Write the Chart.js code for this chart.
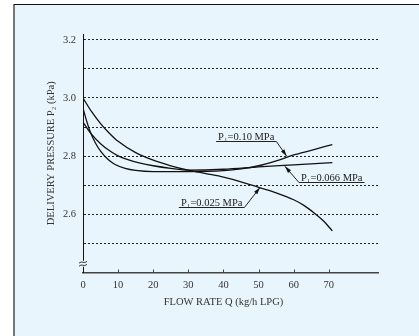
<!DOCTYPE html>
<html>
<head>
<meta charset="utf-8">
<script src="https://cdn.jsdelivr.net/npm/chart.js@4/dist/chart.umd.min.js"></script>
<style>
  html, body { margin: 0; padding: 0; background: #fff; }
  #wrap { width: 419px; height: 336px; }
</style>
</head>
<body>
<div id="wrap"><canvas id="c" width="419" height="336"></canvas></div>
<script>
// flow rate Q (kg/h LPG) and delivery pressure P2 (kPa), one pair per inlet pressure
const q010 = [0, 1, 2, 3.5, 5, 7, 9, 12, 15, 20, 30, 40, 45, 50, 55, 60, 65, 71];
const p010 = [2.965, 2.922, 2.886, 2.846, 2.817, 2.79, 2.772, 2.758, 2.751, 2.747, 2.747, 2.75, 2.756, 2.767, 2.784, 2.804, 2.82, 2.84];

const q066 = [0, 2, 5, 8, 10, 13, 16, 20, 25, 30, 40, 50, 60, 71];
const p066 = [2.917, 2.882, 2.843, 2.815, 2.801, 2.787, 2.777, 2.767, 2.758, 2.752, 2.755, 2.763, 2.77, 2.778];

const q025 = [0, 2.5, 5, 7.5, 10, 15, 20, 25, 30, 35, 40, 45, 50, 55, 60, 63, 66, 68.5, 71];
const p025 = [3.0, 2.952, 2.912, 2.879, 2.851, 2.812, 2.786, 2.767, 2.752, 2.74, 2.728, 2.712, 2.693, 2.674, 2.65, 2.63, 2.603, 2.577, 2.543];

const xTicks = [0, 10, 20, 30, 40, 50, 60, 70];
const yLabels = [2.6, 2.8, 3.0, 3.2];

// labels: text, where the underline starts (x, y), where the arrow points
const labelText = ['P\u2081=0.10 MPa', 'P\u2081=0.066 MPa', 'P\u2081=0.025 MPa'];
const labelAt = [[37.9, 2.851], [61.5, 2.712], [27.3, 2.626]];
const arrowTo = [[58.0, 2.80], [57.5, 2.765], [50.4, 2.692]];
const leaderFromEnd = [true, false, true];

const SERIF = '"Liberation Serif", "DejaVu Serif", serif';
const BG = '#e9f5fd';

const pairs = (xs, ys) => xs.map((x, i) => ({ x: x, y: ys[i] }));

const line = (label, xs, ys) => ({
  label: label,
  data: pairs(xs, ys),
  borderColor: '#111',
  borderWidth: 1.3,
  pointRadius: 0,
  cubicInterpolationMode: 'monotone',
  fill: false
});

const decor = {
  id: 'decor',
  beforeDraw(chart) {
    const ctx = chart.ctx;
    ctx.save();
    ctx.fillStyle = '#fff';
    ctx.fillRect(0, 0, chart.width, chart.height);
    ctx.fillStyle = BG;
    ctx.fillRect(14, 4, chart.width - 14, chart.height - 4);
    ctx.fillStyle = '#777';
    ctx.fillRect(13, 4, 2, chart.height - 4);
    ctx.fillStyle = '#111';
    ctx.fillRect(14, 4, chart.width - 14, 1);
    ctx.restore();
  },
  afterDraw(chart) {
    const ctx = chart.ctx;
    const xs = chart.scales.x, ys = chart.scales.y;
    const area = chart.chartArea;
    ctx.save();

    // x tick marks, pointing up into the plot
    ctx.strokeStyle = '#444';
    ctx.lineWidth = 1;
    xTicks.forEach(v => {
      if (v === 0) return;
      const px = Math.round(xs.getPixelForValue(v)) + 0.5;
      ctx.beginPath();
      ctx.moveTo(px, area.bottom);
      ctx.lineTo(px, area.bottom - 3);
      ctx.stroke();
    });

    // axis break on the y axis
    const by = ys.getPixelForValue(2.43);
    const bx = xs.getPixelForValue(0);
    ctx.fillStyle = BG;
    ctx.fillRect(bx - 1, by - 3, 3, 6);
    ctx.strokeStyle = '#222';
    ctx.lineWidth = 0.9;
    [-1.5, 1.5].forEach(d => {
      ctx.beginPath();
      ctx.moveTo(bx - 4, by + d + 1);
      ctx.bezierCurveTo(bx - 1, by + d - 2, bx + 1, by + d + 2, bx + 4, by + d - 1);
      ctx.stroke();
    });

    // x axis title, centred under the 0-80 range
    ctx.fillStyle = '#333';
    ctx.font = '10.5px ' + SERIF;
    ctx.textAlign = 'center';
    ctx.textBaseline = 'middle';
    ctx.fillText('FLOW RATE Q (kg/h LPG)', xs.getPixelForValue(40), 302);

    // curve labels with leader arrows
    ctx.font = '10.5px ' + SERIF;
    ctx.textAlign = 'left';
    ctx.textBaseline = 'alphabetic';
    labelText.forEach((t, i) => {
      const lx = xs.getPixelForValue(labelAt[i][0]);
      const ly = Math.round(ys.getPixelForValue(labelAt[i][1])) + 0.5;
      const w = ctx.measureText(t).width;
      ctx.fillStyle = '#222';
      ctx.fillText(t, lx + 2, ly - 2);
      ctx.strokeStyle = '#222';
      ctx.lineWidth = 1;
      ctx.beginPath();
      ctx.moveTo(lx, ly);
      ctx.lineTo(lx + w + 4, ly);
      ctx.stroke();
      const sx = leaderFromEnd[i] ? lx + w + 4 : lx;
      const tx = xs.getPixelForValue(arrowTo[i][0]);
      const ty = ys.getPixelForValue(arrowTo[i][1]);
      ctx.beginPath();
      ctx.moveTo(sx, ly);
      ctx.lineTo(tx, ty);
      ctx.stroke();
      const a = Math.atan2(ty - ly, tx - sx);
      ctx.fillStyle = '#111';
      ctx.beginPath();
      ctx.moveTo(tx, ty);
      ctx.lineTo(tx - 7 * Math.cos(a) + 2 * Math.sin(a), ty - 7 * Math.sin(a) - 2 * Math.cos(a));
      ctx.lineTo(tx - 7 * Math.cos(a) - 2 * Math.sin(a), ty - 7 * Math.sin(a) + 2 * Math.cos(a));
      ctx.closePath();
      ctx.fill();
    });
    ctx.restore();
  }
};

new Chart(document.getElementById('c').getContext('2d'), {
  type: 'line',
  data: {
    datasets: [
      line('P1=0.10 MPa', q010, p010),
      line('P1=0.066 MPa', q066, p066),
      line('P1=0.025 MPa', q025, p025)
    ]
  },
  options: {
    responsive: false,
    animation: false,
    layout: { padding: { top: 34, right: 41, bottom: 0, left: 0 } },
    plugins: {
      legend: { display: false },
      tooltip: { enabled: false }
    },
    scales: {
      x: {
        type: 'linear',
        min: 0,
        max: 84,
        afterFit: s => { s.height = 63.5; },
        afterBuildTicks: s => { s.ticks = xTicks.map(v => ({ value: v })); },
        grid: { display: false, drawTicks: false },
        border: { display: true, color: '#444', width: 1.5 },
        ticks: {
          padding: 6,
          color: '#333',
          font: { family: SERIF, size: 10.5 }
        }
      },
      y: {
        type: 'linear',
        min: 2.4,
        max: 3.22,
        afterFit: s => { s.width = 83; },
        afterBuildTicks: s => {
          const t = [];
          for (let k = 25; k <= 32; k++) t.push({ value: k / 10 });
          s.ticks = t;
        },
        grid: {
          drawTicks: false,
          color: '#222',
          lineWidth: 1
        },
        border: { display: true, color: '#111', width: 1, dash: [2, 2] },
        ticks: {
          padding: 7,
          color: '#333',
          font: { family: SERIF, size: 10.5 },
          callback: v => yLabels.some(l => Math.abs(l - v) < 1e-6) ? v.toFixed(1) : ''
        },
        title: {
          display: true,
          text: 'DELIVERY PRESSURE P\u2082 (kPa)',
          color: '#333',
          font: { family: SERIF, size: 10.5 },
          padding: { top: 45, bottom: 0 }
        }
      }
    }
  },
  plugins: [decor]
});
</script>
</body>
</html>
